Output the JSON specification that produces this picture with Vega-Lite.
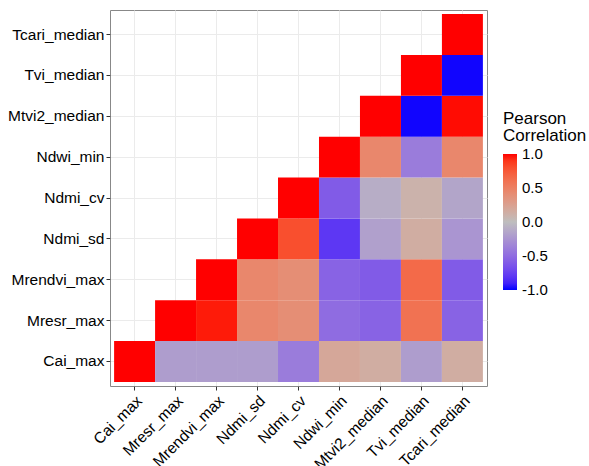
{
  "$schema": "https://vega.github.io/schema/vega-lite/v6.json",
  "width": 377,
  "height": 376,
  "autosize": {"type": "none"},
  "padding": {"left": 110, "top": 10, "right": 102, "bottom": 80},
  "background": "white",
  "config": {
    "font": "Liberation Sans",
    "view": {"stroke": "#888888", "strokeWidth": 1},
    "axis": {
      "labelFont": "Liberation Sans",
      "labelFontSize": 15.5,
      "labelColor": "black",
      "tickColor": "#333333",
      "tickSize": 4,
      "tickWidth": 1,
      "labelPadding": 2,
      "grid": true,
      "gridColor": "#EBEBEB",
      "gridWidth": 1,
      "domain": false,
      "title": null,
      "bandPosition": 0.5,
      "zindex": 0
    }
  },
  "data": {
    "values": [
      {"x": "Cai_max", "y": "Cai_max", "value": 1},
      {"x": "Mresr_max", "y": "Cai_max", "value": -0.2},
      {"x": "Mrendvi_max", "y": "Cai_max", "value": -0.2},
      {"x": "Ndmi_sd", "y": "Cai_max", "value": -0.2},
      {"x": "Ndmi_cv", "y": "Cai_max", "value": -0.4},
      {"x": "Ndwi_min", "y": "Cai_max", "value": 0.2},
      {"x": "Mtvi2_median", "y": "Cai_max", "value": 0.15},
      {"x": "Tvi_median", "y": "Cai_max", "value": -0.2},
      {"x": "Tcari_median", "y": "Cai_max", "value": 0.15},

      {"x": "Mresr_max", "y": "Mresr_max", "value": 1},
      {"x": "Mrendvi_max", "y": "Mresr_max", "value": 0.97},
      {"x": "Ndmi_sd", "y": "Mresr_max", "value": 0.45},
      {"x": "Ndmi_cv", "y": "Mresr_max", "value": 0.4},
      {"x": "Ndwi_min", "y": "Mresr_max", "value": -0.5},
      {"x": "Mtvi2_median", "y": "Mresr_max", "value": -0.55},
      {"x": "Tvi_median", "y": "Mresr_max", "value": 0.6},
      {"x": "Tcari_median", "y": "Mresr_max", "value": -0.55},

      {"x": "Mrendvi_max", "y": "Mrendvi_max", "value": 1},
      {"x": "Ndmi_sd", "y": "Mrendvi_max", "value": 0.45},
      {"x": "Ndmi_cv", "y": "Mrendvi_max", "value": 0.4},
      {"x": "Ndwi_min", "y": "Mrendvi_max", "value": -0.55},
      {"x": "Mtvi2_median", "y": "Mrendvi_max", "value": -0.6},
      {"x": "Tvi_median", "y": "Mrendvi_max", "value": 0.65},
      {"x": "Tcari_median", "y": "Mrendvi_max", "value": -0.6},

      {"x": "Ndmi_sd", "y": "Ndmi_sd", "value": 1},
      {"x": "Ndmi_cv", "y": "Ndmi_sd", "value": 0.8},
      {"x": "Ndwi_min", "y": "Ndmi_sd", "value": -0.8},
      {"x": "Mtvi2_median", "y": "Ndmi_sd", "value": -0.18},
      {"x": "Tvi_median", "y": "Ndmi_sd", "value": 0.15},
      {"x": "Tcari_median", "y": "Ndmi_sd", "value": -0.25},

      {"x": "Ndmi_cv", "y": "Ndmi_cv", "value": 1},
      {"x": "Ndwi_min", "y": "Ndmi_cv", "value": -0.6},
      {"x": "Mtvi2_median", "y": "Ndmi_cv", "value": -0.1},
      {"x": "Tvi_median", "y": "Ndmi_cv", "value": 0.1},
      {"x": "Tcari_median", "y": "Ndmi_cv", "value": -0.15},

      {"x": "Ndwi_min", "y": "Ndwi_min", "value": 1},
      {"x": "Mtvi2_median", "y": "Ndwi_min", "value": 0.45},
      {"x": "Tvi_median", "y": "Ndwi_min", "value": -0.4},
      {"x": "Tcari_median", "y": "Ndwi_min", "value": 0.45},

      {"x": "Mtvi2_median", "y": "Mtvi2_median", "value": 1},
      {"x": "Tvi_median", "y": "Mtvi2_median", "value": -0.99},
      {"x": "Tcari_median", "y": "Mtvi2_median", "value": 0.99},

      {"x": "Tvi_median", "y": "Tvi_median", "value": 1},
      {"x": "Tcari_median", "y": "Tvi_median", "value": -0.99},

      {"x": "Tcari_median", "y": "Tcari_median", "value": 1}
    ]
  },
  "mark": {"type": "rect"},
  "encoding": {
    "x": {
      "field": "x",
      "type": "nominal",
      "scale": {
        "domain": ["Cai_max", "Mresr_max", "Mrendvi_max", "Ndmi_sd", "Ndmi_cv", "Ndwi_min", "Mtvi2_median", "Tvi_median", "Tcari_median"],
        "paddingInner": 0,
        "paddingOuter": 0.1
      },
      "axis": {"labelAngle": -45, "labelAlign": "right", "labelBaseline": "top", "labelPadding": 3, "zindex": 0}
    },
    "y": {
      "field": "y",
      "type": "nominal",
      "scale": {
        "domain": ["Tcari_median", "Tvi_median", "Mtvi2_median", "Ndwi_min", "Ndmi_cv", "Ndmi_sd", "Mrendvi_max", "Mresr_max", "Cai_max"],
        "paddingInner": 0,
        "paddingOuter": 0.1
      },
      "axis": {"zindex": 0}
    },
    "color": {
      "field": "value",
      "type": "quantitative",
      "scale": {"domain": [-1, 0, 1], "range": ["blue", "#BEBEBE", "red"], "interpolate": "lab"},
      "legend": {
        "title": ["Pearson", "Correlation"],
        "orient": "none",
        "legendX": 393,
        "legendY": 101,
        "direction": "vertical",
        "titleFont": "Liberation Sans",
        "titleFontSize": 17,
        "titleFontWeight": "normal",
        "titleColor": "black",
        "titleLineHeight": 17,
        "titlePadding": 9,
        "gradientLength": 136,
        "gradientThickness": 14,
        "gradientStrokeWidth": 0,
        "labelFont": "Liberation Sans",
        "labelFontSize": 15,
        "labelColor": "black",
        "labelOffset": 5,
        "labelOverlap": false,
        "values": [-1, -0.5, 0, 0.5, 1],
        "labelExpr": "datum.value < 0 ? '-' + format(-datum.value, '.1f') : format(datum.value, '.1f')",
        "encode": {"labels": {"update": {"baseline": {"value": "middle"}}}}
      }
    }
  }
}
